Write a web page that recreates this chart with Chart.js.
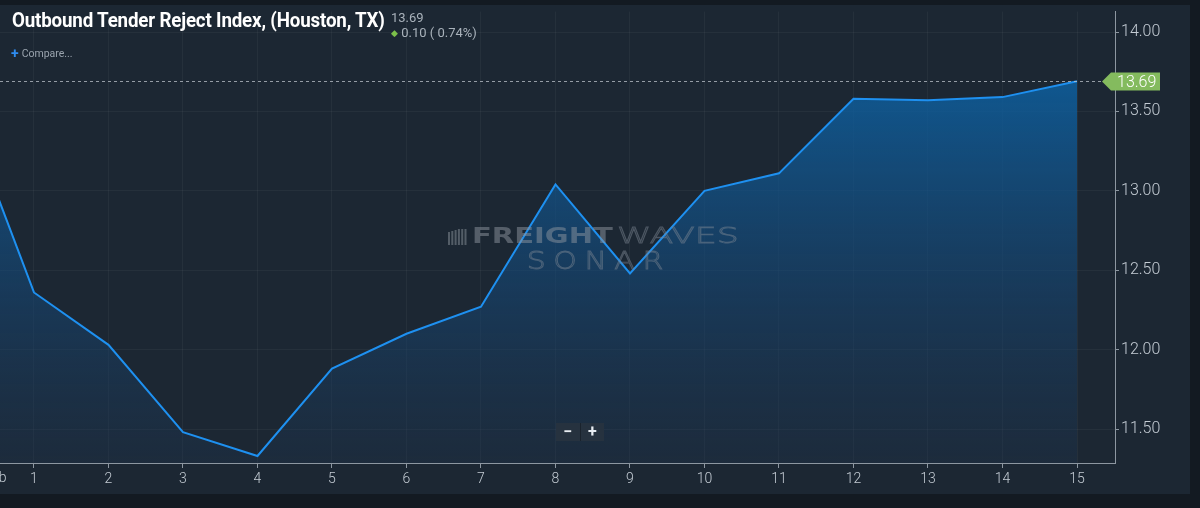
<!DOCTYPE html>
<html>
<head>
<meta charset="utf-8">
<script src="https://cdn.jsdelivr.net/npm/chart.js@4"></script>
<style>
  html,body{margin:0;padding:0;background:#131a22;width:1200px;height:508px;overflow:hidden;font-family:Roboto,"Noto Sans",sans-serif;}
  #panel{position:absolute;left:0;top:5px;width:1190px;height:489px;background:#1c2733;}
  #wrap{position:absolute;left:0;top:0;width:1200px;height:508px;}
  #title{position:absolute;left:12px;top:8px;color:#ffffff;font-weight:700;font-size:21px;transform:scaleX(0.893);transform-origin:left top;white-space:nowrap;letter-spacing:-0.2px;}
  #last{position:absolute;left:391px;top:10px;color:#a9b2bb;font-size:13px;}
  #chg{position:absolute;left:391px;top:25px;color:#a9b2bb;font-size:13px;white-space:nowrap;}
  #chg .arr{color:#7cc04a;font-size:9px;vertical-align:1px;}
  #cmp{position:absolute;left:11px;top:45px;color:#9aa4ae;font-size:10.5px;white-space:nowrap;}
  #cmp .pl{color:#2f8cf0;font-size:14px;font-weight:700;vertical-align:-1px;margin-right:3px;}
  #zoomctl{position:absolute;left:556px;top:423px;width:48px;height:18px;background:#26323f;display:flex;}
  #zoomctl div{flex:1;color:#e8edf2;font-size:16px;font-weight:700;text-align:center;line-height:18px;}
  #zoomctl div:first-child{border-right:1px solid #1a232d;}
</style>
</head>
<body>
<div id="panel"></div>
<div id="wrap"><canvas id="c" width="1200" height="508"></canvas></div>
<div id="title">Outbound Tender Reject Index, (Houston, TX)</div>
<div id="last"></div>
<div id="chg"></div>
<div id="cmp"><span class="pl">+</span>Compare...</div>
<div id="zoomctl"><div>&minus;</div><div>+</div></div>
<script>
// ---- data ----
const days = [0,1,2,3,4,5,6,7,8,9,10,11,12,13,14,15];
const values = [13.60,12.36,12.03,11.48,11.33,11.88,12.10,12.27,13.04,12.48,13.00,13.11,13.58,13.57,13.59,13.69];
const xTickValues = [1,2,3,4,5,6,7,8,9,10,11,12,13,14,15];
const yTickValues = [11.5,12.0,12.5,13.0,13.5,14.0];
const monthLabel = "Feb";

const lastVal = values[values.length-1];
const prevVal = values[values.length-2];
const diff = lastVal - prevVal;
document.getElementById('last').textContent = lastVal.toFixed(2);
document.getElementById('chg').innerHTML = '<span class="arr">&#9670;</span> ' + diff.toFixed(2) + ' ( ' + (diff/prevVal*100).toFixed(2) + '%)';

const points = days.map((d,i)=>({x:d,y:values[i]}));

const watermark = {
  id:'watermark',
  afterDatasetsDraw(chart){
    const ctx = chart.ctx;
    ctx.save();
    ctx.textBaseline='middle';
    ctx.globalAlpha = 0.5;
    ctx.fillStyle = '#8a939c';
    for(let i=0;i<6;i++){ ctx.fillRect(448+i*3.3, 229 + (i<3?3-i:0), 2, 16-(i<3?3-i:0)); }
    ctx.save();
    ctx.translate(472, 237);
    ctx.scale(1.32, 1);
    ctx.font = '900 22px "DejaVu Sans", sans-serif';
    ctx.fillStyle = '#8d969f';
    ctx.textAlign='left';
    ctx.fillText('FREIGHT', 0, 0);
    ctx.restore();
    ctx.save();
    ctx.translate(617, 237);
    ctx.scale(1.58, 1);
    ctx.font = '300 22px "DejaVu Sans", sans-serif';
    ctx.strokeStyle = '#7d8893';
    ctx.lineWidth = 0.8;
    ctx.textAlign='left';
    ctx.strokeText('WAVES', 0, 0);
    ctx.restore();
    ctx.save();
    ctx.translate(595, 263);
    ctx.scale(1.25, 1);
    ctx.font = '200 24px "DejaVu Sans", sans-serif';
    ctx.letterSpacing = '6px';
    ctx.textAlign='center';
    ctx.strokeStyle = '#7d8893';
    ctx.lineWidth = 0.9;
    ctx.strokeText('SONAR', 3, 0);
    ctx.restore();
    ctx.restore();
  }
};

const overlay = {
  id:'overlay',
  afterDraw(chart){
    const ctx = chart.ctx;
    const ys = chart.scales.y, xs = chart.scales.x;
    const ca = chart.chartArea;
    const py = Math.round(ys.getPixelForValue(lastVal)) + 0.5;
    ctx.save();
    ctx.strokeStyle = 'rgba(190,198,205,0.75)';
    ctx.setLineDash([3,3]);
    ctx.lineWidth = 1;
    ctx.beginPath(); ctx.moveTo(ca.left, py); ctx.lineTo(1102, py); ctx.stroke();
    ctx.setLineDash([]);
    ctx.fillStyle = '#84bb5e';
    ctx.beginPath();
    ctx.moveTo(1102, py); ctx.lineTo(1111, py-9); ctx.lineTo(1160, py-9);
    ctx.lineTo(1160, py+9); ctx.lineTo(1111, py+9); ctx.closePath(); ctx.fill();
    ctx.fillStyle = '#ffffff';
    ctx.font = '300 16px Roboto';
    ctx.textAlign='left'; ctx.textBaseline='middle';
    ctx.fillText(lastVal.toFixed(2), 1117, py+1);
    ctx.fillStyle = '#c4ccd4';
    ctx.font = '300 14px Roboto';
    ctx.textAlign='center';
    ctx.fillText(monthLabel, xs.getPixelForValue(0.48), 478);
    ctx.restore();
  }
};

new Chart(document.getElementById('c'), {
  type:'line',
  data:{datasets:[{
    data:points,
    borderColor:'#1e90f0',
    borderWidth:2,
    pointRadius:0,
    tension:0,
    fill:'start',
    backgroundColor:(ctx)=>{
      const ca = ctx.chart.chartArea;
      if(!ca) return 'rgba(20,90,150,0.6)';
      const g = ctx.chart.ctx.createLinearGradient(0, ca.top+70, 0, ca.bottom);
      g.addColorStop(0,'rgba(14,96,160,0.85)');
      g.addColorStop(0.55,'rgba(22,70,115,0.6)');
      g.addColorStop(1,'rgba(30,52,78,0.35)');
      return g;
    }
  }]},
  options:{
    responsive:false,
    animation:false,
    devicePixelRatio:1,
    layout:{padding:{left:0,right:0,top:5,bottom:0}},
    plugins:{legend:{display:false},tooltip:{enabled:false}},
    scales:{
      x:{
        type:'linear',
        min:0.544, max:15.51,
        afterBuildTicks:(axis)=>{axis.ticks = xTickValues.map(v=>({value:v}));},
        afterFit:(s)=>{s.height = 45;},
        grid:{color:'rgba(255,255,255,0.045)',tickColor:'#8d97a1',tickLength:5,drawTicks:true},
        border:{display:true,color:'#8d97a1',width:1},
        ticks:{color:'#c4ccd4',font:{family:'Roboto',size:14,weight:'300'},padding:3,maxRotation:0,autoSkip:false,callback:(v)=>String(v)}
      },
      y:{
        position:'right',
        min:11.286, max:14.1285,
        afterBuildTicks:(axis)=>{axis.ticks = yTickValues.map(v=>({value:v}));},
        afterFit:(s)=>{s.width = 85;},
        grid:{color:'rgba(255,255,255,0.045)',tickColor:'#8d97a1',tickLength:4,drawTicks:true},
        border:{display:true,color:'#8d97a1',width:1},
        ticks:{color:'#c4ccd4',font:{family:'Roboto',size:16,weight:'300'},padding:2,callback:(v)=>Number(v).toFixed(2)}
      }
    }
  },
  plugins:[watermark, overlay]
});
</script>
</body>
</html>
